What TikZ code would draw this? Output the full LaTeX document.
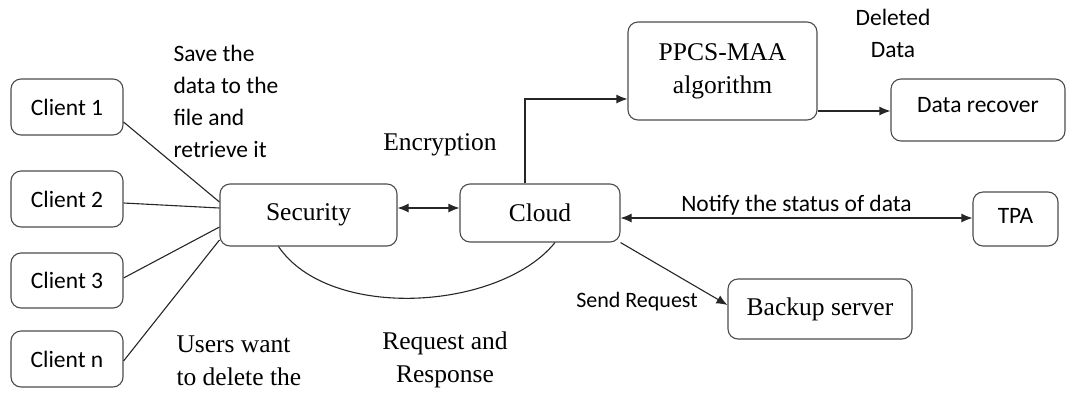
\documentclass[tikz,border=0pt]{standalone}
\usepackage{fontspec}
\setmainfont{Liberation Serif}
\newfontfamily\cali{Carlito}
\usetikzlibrary{arrows.meta}

\begin{document}
\begin{tikzpicture}[x=1pt,y=-1pt,
    box/.style={draw=black!70, line width=1.1pt, rounded corners=10pt, inner sep=0pt, align=center},
    rm/.style={font=\fontsize{25.5}{33}\selectfont},
    sf/.style={font=\cali\fontsize{23.5}{32}\selectfont},
    link/.style={draw=black!85, line width=1.1pt},
    >={Latex[length=11pt,width=9pt]}]
      \useasboundingbox (0,0) rectangle (1066,392);

      % clients
      \node[box,sf,minimum width=112pt,minimum height=56pt] (c1) at (67,107) {Client 1};
      \node[box,sf,minimum width=112pt,minimum height=56pt] (c2) at (67,199) {Client 2};
      \node[box,sf,minimum width=112pt,minimum height=55pt] (c3) at (67,280.5) {Client 3};
      \node[box,sf,minimum width=112pt,minimum height=56pt] (cn) at (67,359) {Client n};

      % middle row
      \node[box,rm,minimum width=177pt,minimum height=62pt] (sec) at (308.5,215) {Security};
      \node[box,rm,minimum width=160pt,minimum height=58pt] (cloud) at (540,213) {Cloud};

      % right side
      \node[box,rm,minimum width=189pt,minimum height=98pt] (ppcs) at (722.5,71) {PPCS-MAA\\algorithm};
      \node[box,sf,minimum width=174pt,minimum height=62pt,text depth=10pt] (rec) at (978,110) {Data recover};
      \node[box,sf,minimum width=85pt,minimum height=54pt,text depth=6pt] (tpa) at (1015.5,219) {TPA};
      \node[box,rm,minimum width=184pt,minimum height=60pt] (bak) at (820,309) {Backup server};

      % clients to security
      \draw[link] ([yshift=-15pt]c1.east) -- ([yshift=13pt]sec.west);
      \draw[link] ([yshift=-4pt]c2.east) -- ([yshift=7pt]sec.west);
      \draw[link] ([yshift=2.5pt]c3.east) -- ([yshift=-12pt]sec.west);
      \draw[link] ([yshift=-2pt]cn.east) -- ([yshift=-25pt]sec.west);

      \draw[link,<->] ([yshift=7pt]sec.east) -- ([yshift=7pt]sec.east -| cloud.west);
      \draw[link,->] ([xshift=-15pt]cloud.north) |- ([yshift=-28pt]ppcs.west);
      \draw[link,->] ([yshift=-40pt]ppcs.east) -- ([yshift=-40pt]ppcs.east -| rec.west);
      \draw[link,<->] ([yshift=-5pt]cloud.east) -- ([yshift=-5pt]cloud.east -| tpa.west)
        node[midway,above=-1pt,sf] (nt) {Notify the status of data};
      \draw[link,->] (cloud.south east) -- ([yshift=4pt]bak.west);
      \draw[link] ([xshift=-30pt]sec.south) .. controls +(51,75) and +(-55,68) .. ([xshift=15pt]cloud.south);

      % labels
      \node[sf,align=left,anchor=north west] (save) at (170,42) {Save the\\data to the\\file and\\retrieve it};
      \node[rm] (enc) at (440,145) {Encryption};
      \node[sf,align=center] (del) at (893,33) {Deleted\\Data};
      \node[sf,font=\cali\fontsize{22}{32}\selectfont] (sreq) at (637,302) {Send Request};
      \node[rm,align=center] (rr) at (445,360) {Request and\\Response};
      \node[rm,align=left,anchor=north west] (usr) at (173,332) {Users want\\to delete the};
    \end{tikzpicture}
\end{document}
